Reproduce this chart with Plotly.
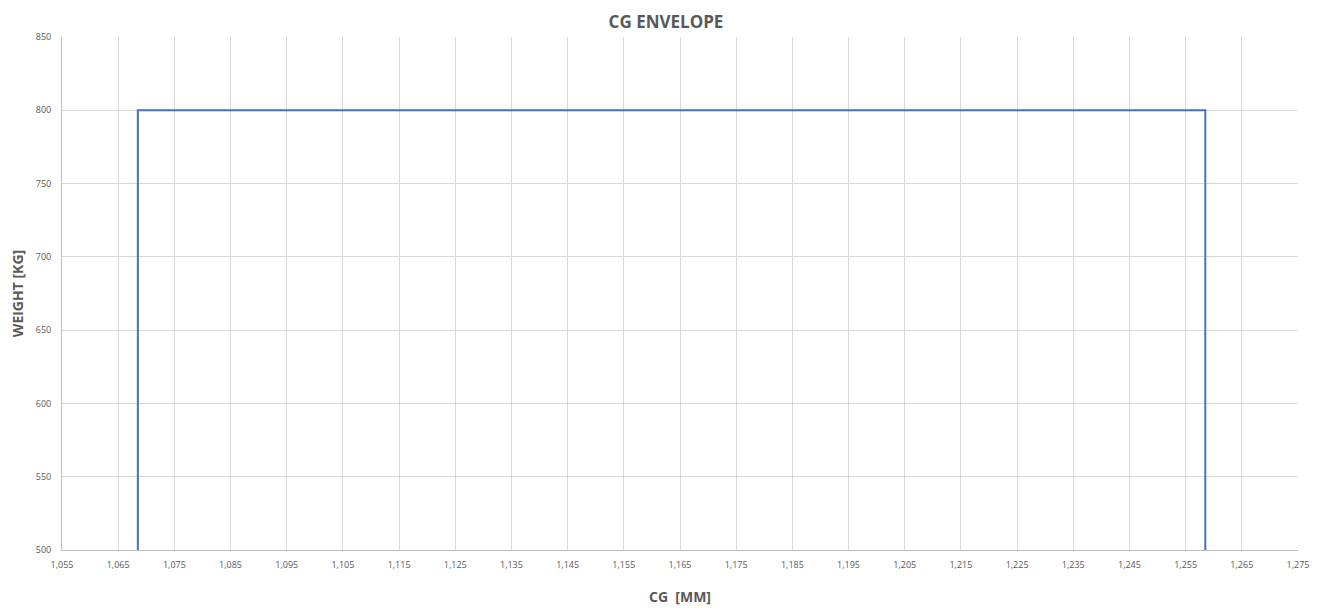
import plotly.graph_objects as go

cg_mm = [1068.5, 1068.5, 1258.5, 1258.5]
weight_kg = [500, 800, 800, 500]
x_ticks = list(range(1055, 1276, 10))
y_ticks = list(range(500, 851, 50))

fig = go.Figure()
fig.add_trace(go.Scatter(x=cg_mm, y=weight_kg, mode="lines",
                         line=dict(color="#4472C4", width=2), showlegend=False))

# page body has an 8px margin, so the figure is sized/offset to compensate
fnt = "Open Sans, Liberation Sans, sans-serif"
fig.update_layout(
    width=1316, height=604,
    margin=dict(l=54, r=26, t=29, b=62),
    paper_bgcolor="white", plot_bgcolor="white",
    font=dict(family=fnt, color="#595959"),
    title=dict(text="<b>CG ENVELOPE</b>", x=0.5, xanchor="center",
               yref="container", y=1 - 8 / 604, yanchor="top",
               font=dict(size=17, color="#595959")),
    xaxis=dict(range=[1055, 1275], tickvals=x_ticks,
               ticktext=[f"{v:,}" for v in x_ticks], automargin=False,
               showgrid=True, gridcolor="#d9d9d9", gridwidth=1,
               showline=True, linecolor="#bfbfbf", linewidth=1, zeroline=False,
               ticks="", ticklabelstandoff=6, tickfont=dict(size=9, color="#595959"),
               title=dict(text="<b>CG  [MM]</b>", font=dict(size=14, color="#595959"), standoff=22)),
    yaxis=dict(range=[500, 850], tickvals=y_ticks, automargin=False,
               showgrid=True, gridcolor="#d9d9d9", gridwidth=1,
               showline=True, linecolor="#bfbfbf", linewidth=1, zeroline=False,
               ticks="", ticklabelstandoff=8, tickfont=dict(size=9, color="#595959"),
               title=dict(text="<b>WEIGHT [KG]</b>", font=dict(size=14, color="#595959"), standoff=10)),
)
fig.write_html("out.html")
